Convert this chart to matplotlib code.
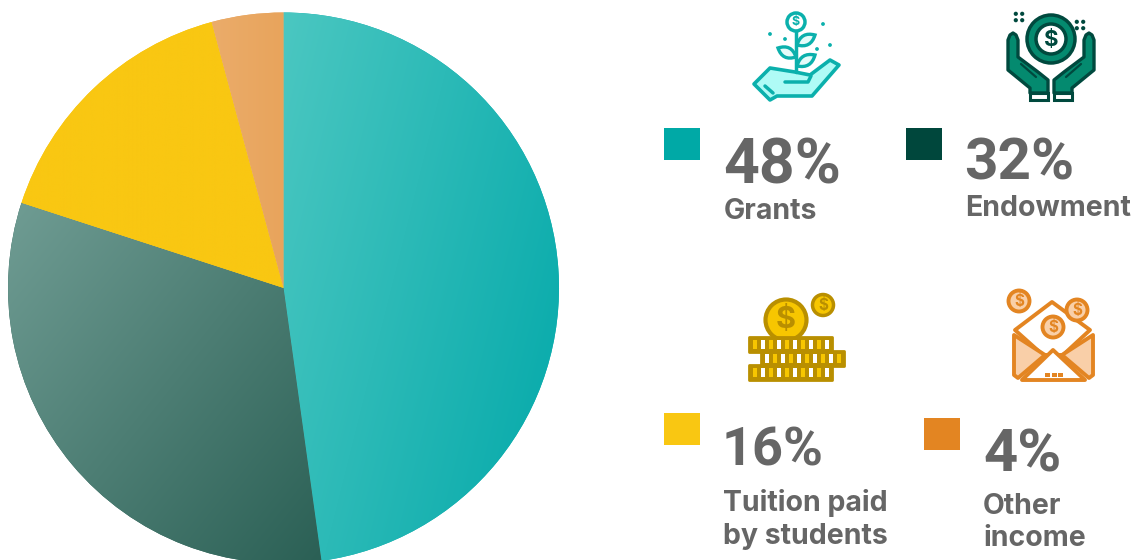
import numpy as np
import matplotlib
matplotlib.use('Agg')
import matplotlib.pyplot as plt
from matplotlib.patches import Circle, Polygon, Rectangle, PathPatch
from matplotlib.path import Path
from matplotlib.colors import to_rgb

# Data
categories = ['Grants', 'Endowment', 'Tuition paid\nby students', 'Other\nincome']
pct_labels = ['48%', '32%', '16%', '4%']
# slice shares
values = [47.8, 32.2, 15.8, 4.2]

square_colors = ['#00A9A6', '#00473C', '#F9C712', '#E38522']
# start / end colour of the gradient in each slice and its direction
grad_colors = [('#4BC7C1', '#0DADAD'), ('#6E9B92', '#2B6055'),
               ('#F9C712', '#F9C712'), ('#EBAC6A', '#E8A45C')]
grad_dirs = [(1, -0.25), (1, -0.8), (1, 0), (1, 0)]

plt.rcParams['font.family'] = ['Inter', 'DejaVu Sans']
TXT = '#666666'

fig = plt.figure(figsize=(11.4, 5.6), dpi=100)

# Pie (own axes, y up)
ax_pie = fig.add_axes([0, 0, 1, 1])
cx, cy, r = 283.5, 560 - 288, 275.5
wedges, _ = ax_pie.pie(values, startangle=90, counterclock=False, center=(cx, cy), radius=r,
                       colors=[c[1] for c in grad_colors], frame=True)
ax_pie.set_xlim(0, 1140)
ax_pie.set_ylim(0, 560)
ax_pie.set_aspect('auto')
ax_pie.axis('off')

xs = np.linspace(cx - r, cx + r, 400)
ys = np.linspace(cy + r, cy - r, 400)
xx, yy = np.meshgrid(xs, ys)
for w, (c0, c1), d in zip(wedges, grad_colors, grad_dirs):
    t = (xx - cx) * d[0] + (yy - cy) * d[1]
    mask = (xx - cx) ** 2 + (yy - cy) ** 2 <= r ** 2
    ang = (90 - np.degrees(np.arctan2(yy - cy, xx - cx))) % 360
    mask &= (ang >= (90 - w.theta2) % 360) & (ang <= ((90 - w.theta1) % 360 or 360))
    t = (t - t[mask].min()) / max(t[mask].max() - t[mask].min(), 1e-6)
    t = np.clip(t, 0, 1)[..., None]
    img = np.array(to_rgb(c0)) * (1 - t) + np.array(to_rgb(c1)) * t
    im = ax_pie.imshow(img, extent=(cx - r, cx + r, cy - r, cy + r), aspect='auto',
                       interpolation='bilinear', zorder=2)
    im.set_clip_path(w)
ax_pie.set_xlim(0, 1140)
ax_pie.set_ylim(0, 560)

# Overlay in pixel coords for legend and icons
ax = fig.add_axes([0, 0, 1, 1])
ax.set_xlim(0, 1140)
ax.set_ylim(560, 0)
ax.axis('off')
ax.patch.set_alpha(0)


def circ(x, y, rad, fc, ec, lw=2.0):
    ax.add_patch(Circle((x, y), rad, fc=fc, ec=ec, lw=lw))


def poly(pts, fc, ec, lw=2.0):
    ax.add_patch(Polygon(pts, closed=True, fc=fc, ec=ec, lw=lw, joinstyle='round'))


def line(pts, c, lw=2.0):
    p = np.array(pts)
    ax.plot(p[:, 0], p[:, 1], color=c, lw=lw, solid_capstyle='round', solid_joinstyle='round')


def leaf(x0, y0, x1, y1, bulge, fc, ec):
    mx, my = (x0 + x1) / 2, (y0 + y1) / 2
    nx, ny = -(y1 - y0), x1 - x0
    ln = np.hypot(nx, ny)
    nx, ny = nx / ln * bulge, ny / ln * bulge
    path = Path([(x0, y0), (mx + nx, my + ny), (x1, y1), (mx - nx, my - ny), (x0, y0)],
                [Path.MOVETO, Path.CURVE3, Path.CURVE3, Path.CURVE3, Path.CURVE3])
    ax.add_patch(PathPatch(path, fc=fc, ec=ec, lw=2.4))


def dollar(x, y, size, c):
    ax.text(x, y, '$', fontsize=size, color=c, ha='center', va='center', fontweight='bold')


# legend squares and text
squares = [(664, 128), (906, 128), (664, 413), (924, 418)]
for (sx, sy), c in zip(squares, square_colors):
    ax.add_patch(Rectangle((sx, sy), 36, 32, fc=c, ec='none'))

pct_pos = [(723, 183, 45), (964, 180, 42), (722, 466, 39), (983, 472, 43)]
for (x, y, fs), s in zip(pct_pos, pct_labels):
    ax.text(x, y, s, fontsize=fs, fontweight='bold', color=TXT, ha='left', va='baseline',
            family=['Roboto', 'DejaVu Sans'])

name_pos = [(724, 219), (965, 216), (723, 511), (983, 514)]
for (x, y), name in zip(name_pos, categories):
    lines = name.split('\n')
    for i, s in enumerate(lines):
        ax.text(x, y + i * 32.5, s, fontsize=20.5, fontweight='bold', color=TXT, ha='left', va='baseline')

# plant icon
T, TL = '#0BB0AC', '#AFFBF6'
line([(796, 31), (796, 72)], T, 2.5)
leaf(797, 45, 815, 35, 10, '#E4FBF9', T)
leaf(796, 57, 778, 48, 10, '#E4FBF9', T)
leaf(797, 66, 815, 55, 10, '#E4FBF9', T)
circ(796, 22, 9, 'white', T, 2.5)
dollar(796, 22.5, 9, T)
poly([(754, 84), (770, 68), (795, 72), (810, 75), (830, 60), (839, 65), (812, 96), (777, 96), (770, 100)], TL, T, 2.6)
line([(785, 82), (808, 82), (811, 76)], T, 2.5)
line([(765, 86), (773, 93)], T, 2.5)
for dx, dy in [(770, 34), (785, 39), (823, 24), (817, 49), (830, 45)]:
    ax.add_patch(Circle((dx, dy), 1.9, fc=T, ec='none'))

# hands icon
D, G = '#00493E', '#048A6F'
circ(1051, 39, 24, G, D, 2.5)
circ(1051, 39, 15, 'white', D, 2.5)
dollar(1051, 39.5, 16, D)
hand = np.array([(1008, 40), (1010, 35), (1013, 33), (1016, 35), (1018, 40), (1018, 57), (1038, 72),
                 (1048, 80), (1048, 93), (1030, 93), (1030, 88), (1008, 70)])
for h in [hand, np.column_stack((2 * 1051 - hand[:, 0], hand[:, 1]))]:
    poly(h, G, D, 2.4)
line([(1021, 64), (1036, 77)], D, 1.6)
line([(1081, 64), (1066, 77)], D, 1.6)
for x0 in (1030, 1054):
    ax.add_patch(Rectangle((x0, 93), 18, 6.5, fc='white', ec=D, lw=2.2))
for sx, sy in [(1019, 17), (1080, 25)]:
    for ox in (-3.2, 3.2):
        for oy in (-3.2, 3.2):
            ax.add_patch(Circle((sx + ox, sy + oy), 2.1, fc=D, ec='none'))

# coins icon
Y, YD = '#F7C600', '#B98F00'
circ(786, 320, 20.5, Y, YD, 3)
dollar(786, 320, 22, YD)
circ(823, 305, 10.5, Y, YD, 2.5)
dollar(823, 305.5, 11, YD)
for x0, y0 in [(749, 337), (761, 351), (749, 365)]:
    ax.add_patch(Rectangle((x0, y0), 83, 14.5, fc=YD, ec=YD, lw=2, joinstyle='round'))
    for i in range(10):
        col = Y if (i + (x0 == 761)) % 2 == 0 else 'white'
        ax.add_patch(Rectangle((x0 + 3.5 + i * 8, y0 + 2.5), 4.5, 9.5, fc=col, ec='none'))

# envelope icon
O, OL = '#E38522', '#F9CFA8'
circ(1019, 301, 10.5, OL, O, 2.8)
dollar(1019, 301.5, 11, O)
poly([(1015, 330), (1052, 302), (1090, 330), (1063, 355), (1043, 355)], 'white', O, 2.8)
circ(1077, 310, 10.5, OL, O, 2.8)
dollar(1077, 310.5, 11, O)
circ(1053, 327, 10.5, OL, O, 2.8)
dollar(1053, 327.5, 11, O)
poly([(1014, 335), (1045, 355), (1018, 378), (1014, 375)], OL, O, 2.8)
poly([(1093, 335), (1062, 355), (1089, 378), (1093, 375)], OL, O, 2.8)
poly([(1022, 380), (1053, 350), (1085, 380)], 'white', O, 2.8)
for x0 in (1045, 1051.5, 1058):
    ax.add_patch(Rectangle((x0, 373), 5, 3.5, fc=O, ec='none'))

ax.set_xlim(0, 1140)
ax.set_ylim(560, 0)
fig.savefig('out.png', dpi=100)
